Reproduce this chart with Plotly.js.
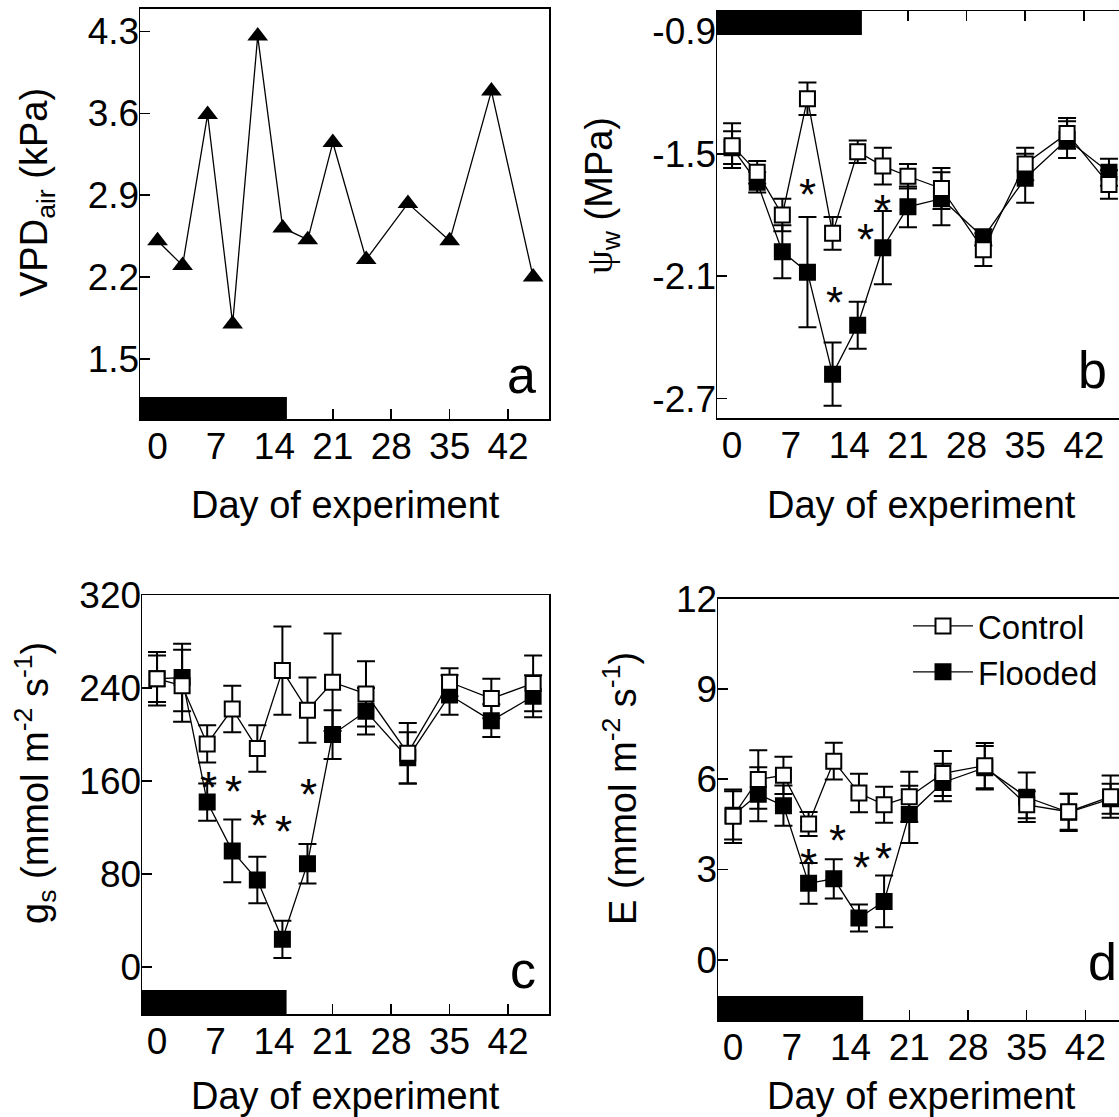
<!DOCTYPE html>
<html>
<head>
<meta charset="utf-8">
<script src="https://cdn.plot.ly/plotly-3.0.1.min.js"></script>
<style>html,body{margin:0;padding:0;background:#fff;}#chart{width:1119px;height:1117px;}</style>
</head>
<body>
<div id="chart"></div>
<script>
// ---- data ----
const days = [0, 3, 6, 9, 12, 15, 18, 21, 25, 30, 35, 40, 45];
const dayTicks = [0, 7, 14, 21, 28, 35, 42];
const floodEnd = 15.5;

const vpdAir = [2.51, 2.30, 3.59, 1.80, 4.26, 2.62, 2.52, 3.35, 2.35, 2.83, 2.51, 3.79, 2.20];

const psiControl = [-1.46, -1.59, -1.80, -1.23, -1.89, -1.49, -1.56, -1.61, -1.67, -1.97, -1.55, -1.40, -1.65];
const psiControlErr = [0.11, 0.055, 0.08, 0.08, 0.08, 0.055, 0.09, 0.06, 0.10, 0.08, 0.08, 0.075, 0.07];
const psiFlooded = [-1.47, -1.64, -1.98, -2.08, -2.58, -2.34, -1.96, -1.76, -1.72, -1.91, -1.62, -1.43, -1.59];
const psiFloodedErr = [0.08, 0.05, 0.13, 0.27, 0.155, 0.115, 0.18, 0.10, 0.13, 0.04, 0.12, 0.09, 0.066];

const gsControl = [248, 242, 192, 222, 188, 255, 221, 245, 235, 184, 245, 231, 244];
const gsControlErr = [23, 31, 16, 20, 20, 38, 28, 42, 28, 26, 12, 17, 24];
const gsFlooded = [248, 249, 142, 100, 75, 24, 89, 200, 220, 180, 234, 212, 233];
const gsFloodedErr = [20, 29, 16, 27, 20, 16, 17, 21, 20, 22, 17, 14, 18];

const eControl = [4.77, 5.99, 6.13, 4.51, 6.60, 5.54, 5.15, 5.42, 6.19, 6.45, 5.15, 4.92, 5.42];
const eControlErr = [0.89, 0.97, 0.62, 0.40, 0.61, 0.64, 0.60, 0.83, 0.75, 0.75, 0.45, 0.60, 0.70];
const eFlooded = [4.80, 5.50, 5.12, 2.54, 2.69, 1.39, 1.94, 4.83, 5.89, 6.38, 5.40, 4.90, 5.35];
const eFloodedErr = [0.80, 0.90, 0.67, 0.68, 0.65, 0.45, 0.86, 0.95, 0.62, 0.72, 0.82, 0.62, 0.50];

const starsBx = [9, 12.2, 15.9, 18];
const starsBy = [-1.64, -2.17, -1.86, -1.72];
const starsCx = [6.1, 9.1, 12.1, 15.1, 18.1];
const starsCy = [165, 161, 132, 127, 159];
const starsDx = [9, 12.4, 15.3, 17.9];
const starsDy = [3.58, 4.35, 3.46, 3.76];

const ticksA = [1.5, 2.2, 2.9, 3.6, 4.3];
const ticksB = [-2.7, -2.1, -1.5, -0.9];
const ticksBText = ['-2.7', '-2.1', '-1.5', '-0.9'];
const ticksC = [0, 80, 160, 240, 320];
const ticksD = [0, 3, 6, 9, 12];

// ---- helpers ----
const W = 1119, H = 1117;
const FONT = 'Liberation Sans, Arial, sans-serif';
const TICK = 37, TITLE = 38;
const fx = p => p / W;
const fy = p => 1 - p / H;

function xAxis(dom, range, opts) {
  return Object.assign({
    domain: [fx(dom[0]), fx(dom[1])], range: range,
    tickvals: dayTicks, ticktext: dayTicks.map(String),
    ticks: 'inside', ticklen: 10, tickwidth: 1.5, tickcolor: 'black',
    showline: true, linecolor: 'black', linewidth: 1.5, mirror: true,
    showgrid: false, zeroline: false, ticklabelstandoff: -6,
    tickfont: {family: FONT, size: TICK, color: 'black'}
  }, opts || {});
}
function yAxis(dom, range, vals, text, opts) {
  return Object.assign({
    domain: [fy(dom[1]), fy(dom[0])], range: range,
    tickvals: vals, ticktext: text || vals.map(String),
    ticks: 'inside', ticklen: 10, tickwidth: 1.5, tickcolor: 'black',
    showline: true, linecolor: 'black', linewidth: 1.5, mirror: true,
    showgrid: false, zeroline: false, ticklabelstandoff: -8,
    tickfont: {family: FONT, size: TICK, color: 'black'}
  }, opts || {});
}

const lineStyle = {color: 'black', width: 1.3};
function series(x, y, err, filled, xa, ya, name, show) {
  return {
    x: x, y: y, xaxis: xa, yaxis: ya, type: 'scatter', mode: 'lines+markers',
    name: name, showlegend: !!show, legendrank: filled ? 2 : 1, legendgroup: name,
    line: lineStyle,
    marker: {symbol: 'square', size: 15, color: filled ? 'black' : 'white', line: {color: 'black', width: 2}},
    error_y: {type: 'data', array: err, visible: true, color: 'black', thickness: 2, width: 9},
    cliponaxis: true, hoverinfo: 'x+y'
  };
}

const traces = [
  {x: days, y: vpdAir, xaxis: 'x', yaxis: 'y', type: 'scatter', mode: 'lines+markers', showlegend: false,
   line: lineStyle, marker: {symbol: 'triangle-up', size: 18, color: 'black'}},
  series(days, psiFlooded, psiFloodedErr, true, 'x2', 'y2', 'Flooded', false),
  series(days, psiControl, psiControlErr, false, 'x2', 'y2', 'Control', false),
  {x: [null], y: [null], xaxis: 'x5', yaxis: 'y2', type: 'scatter', mode: 'markers', showlegend: false, hoverinfo: 'skip'},
  series(days, gsFlooded, gsFloodedErr, true, 'x3', 'y3', 'Flooded', false),
  series(days, gsControl, gsControlErr, false, 'x3', 'y3', 'Control', false),
  series(days, eFlooded, eFloodedErr, true, 'x4', 'y4', 'Flooded', true),
  series(days, eControl, eControlErr, false, 'x4', 'y4', 'Control', true)
];

const annotations = [];
function star(xs, ys, xr, yr) {
  xs.forEach((v, i) => annotations.push({x: v, y: ys[i], xref: xr, yref: yr, text: '*', showarrow: false,
    font: {family: FONT, size: 44, color: 'black'}, xanchor: 'center', yanchor: 'middle', yshift: -12}));
}
star(starsBx, starsBy, 'x2', 'y2');
star(starsCx, starsCy, 'x3', 'y3');
star(starsDx, starsDy, 'x4', 'y4');

function txt(text, xp, yp, size, angle, xanchor, yanchor) {
  annotations.push({text: text, x: fx(xp), y: fy(yp), xref: 'paper', yref: 'paper', showarrow: false,
    textangle: angle || 0, xanchor: xanchor || 'center', yanchor: yanchor || 'middle',
    font: {family: FONT, size: size, color: 'black'}});
}
// axis titles
txt('VPD<sub>air</sub> (kPa)', 37, 193, TITLE, -90);
txt('<span style="font-family:Liberation Serif">ψ</span><sub>w</sub> (MPa)', 602, 196, TITLE, -90);
txt('g<sub>s</sub> (mmol m<sup>-2</sup> s<sup>-1</sup>)', 35, 783, TITLE, -90);
txt('E (mmol m<sup>-2</sup> s<sup>-1</sup>)', 620, 789, TITLE, -90);
txt('Day of experiment', 345, 505, TITLE);
txt('Day of experiment', 921, 505, TITLE);
txt('Day of experiment', 345, 1096, TITLE);
txt('Day of experiment', 921, 1096, TITLE);
// panel letters
txt('a', 538, 406, 52, 0, 'right', 'bottom');
txt('b', 1109, 401, 52, 0, 'right', 'bottom');
txt('c', 538, 1001, 52, 0, 'right', 'bottom');
txt('d', 1119, 993, 52, 0, 'right', 'bottom');

function bar(xr, yr, x0, y0, y1) {
  return {type: 'rect', xref: xr, yref: yr + ' domain', x0: x0, x1: floodEnd, y0: y0, y1: y1,
    fillcolor: 'black', line: {width: 0}, layer: 'above'};
}

const layout = {
  width: W, height: H, margin: {l: 0, r: 0, t: 0, b: 0},
  paper_bgcolor: 'white', plot_bgcolor: 'white',
  font: {family: FONT, color: 'black'},
  xaxis: xAxis([140, 549], [-2.1, 46.9], {anchor: 'y', mirror: true}),
  yaxis: yAxis([8.6, 419], [0.987, 4.495], ticksA, null, {anchor: 'x'}),
  xaxis2: xAxis([717, 1119], [-1.8, 46.2], {anchor: 'y2', ticks: ''}),
  xaxis5: xAxis([717, 1119], [-1.8, 46.2], {anchor: 'y2', overlaying: 'x2', side: 'top', showticklabels: false, showline: false, mirror: false}),
  yaxis2: yAxis([11, 418], [-2.795, -0.80], ticksB, ticksBText, {anchor: 'x2', mirror: false}),
  xaxis3: xAxis([142, 549], [-1.8, 46.9], {anchor: 'y3'}),
  yaxis3: yAxis([595, 1014], [-40.2, 320], ticksC, null, {anchor: 'x3'}),
  xaxis4: xAxis([718, 1119], [-1.8, 46.0], {anchor: 'y4'}),
  yaxis4: yAxis([598.6, 1020], [-2, 12], ticksD, null, {anchor: 'x4', mirror: false}),
  shapes: [
    bar('x', 'y', -2.1, 0, 22 / 410),
    bar('x2', 'y2', -1.8, 1 - 24 / 407, 1),
    bar('x3', 'y3', -1.8, 0, 24 / 419),
    bar('x4', 'y4', -1.8, 0, 24 / 421)
  ],
  annotations: annotations,
  showlegend: true,
  legend: {x: fx(908), y: fy(598), xanchor: 'left', yanchor: 'top', bgcolor: 'rgba(0,0,0,0)',
    font: {family: FONT, size: 33, color: 'black'}, itemwidth: 60, tracegroupgap: 4, traceorder: 'normal'}
};

Plotly.newPlot('chart', traces, layout, {staticPlot: true, displayModeBar: false});
</script>
</body>
</html>
